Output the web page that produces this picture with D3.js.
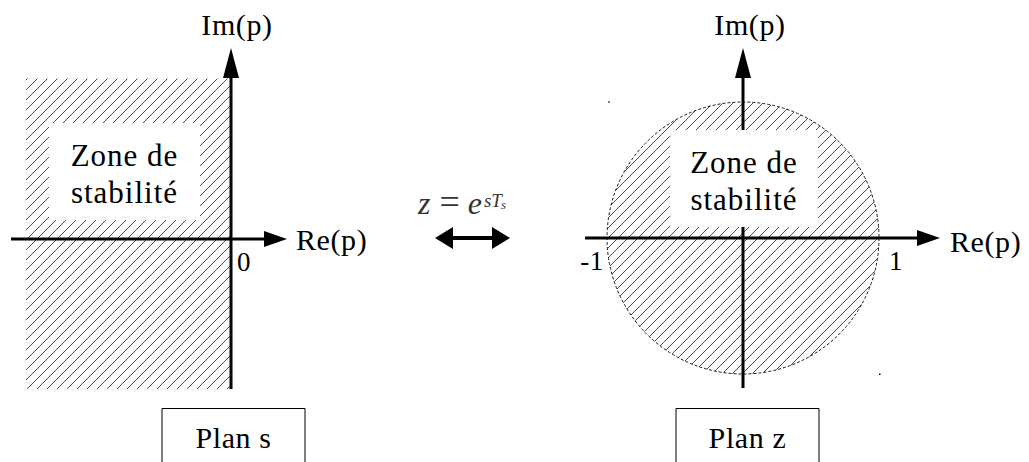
<!DOCTYPE html>
<html><head><meta charset="utf-8">
<script src="https://cdn.jsdelivr.net/npm/d3@7"></script>
<style>html,body{margin:0;padding:0;background:#fff;}svg{display:block;}</style>
</head><body>
<svg id="c" width="1029" height="462"></svg>
<script>
// ---- data ----
const planes = ["Plan s", "Plan z"];
const zoneText = ["Zone de", "stabilité"];
const axisLabels = ["Re(p)", "Im(p)"];
const sTicks = [{v: 0, label: "0"}];
const zTicks = [{v: -1, label: "-1"}, {v: 1, label: "1"}];
const sRegionRe = [-1, 0];        // stable half-plane (visible part)
const sRegionIm = [-1, 1.07];
const zRadius = 1;                // unit circle

const svg = d3.select("#c");
const FONT = "'Liberation Serif', 'DejaVu Serif', serif";

// hatch pattern
const defs = svg.append("defs");
const pat = defs.append("pattern").attr("id", "hatch").attr("patternUnits", "userSpaceOnUse")
  .attr("width", 10).attr("height", 10).attr("x", 6).attr("y", 0);
pat.append("path").attr("d", "M0,10 L10,0 M-2,2 L2,-2 M8,12 L12,8")
  .attr("stroke", "#111").attr("stroke-width", 0.75).attr("fill", "none");

// scales
const sx = d3.scaleLinear().domain([-1, 0]).range([26, 231]);
const sy = d3.scaleLinear().domain([-1, 1]).range([389, 89]);
const zx = d3.scaleLinear().domain([-1, 1]).range([607, 879]);
const zy = d3.scaleLinear().domain([-1, 1]).range([374, 102]);

function arrowUp(g, x, yTip) {
  g.append("path").attr("d", `M${x},${yTip} L${x-8},${yTip+30} L${x+8},${yTip+30} Z`).attr("fill", "#000");
}
function arrowRight(g, xTip, y) {
  g.append("path").attr("d", `M${xTip},${y} L${xTip-23},${y-8} L${xTip-23},${y+8} Z`).attr("fill", "#000");
}
function zone(g, x0, y0, w, h, cx, b1, b2) {
  g.append("rect").attr("x", x0).attr("y", y0).attr("width", w).attr("height", h).attr("fill", "#fff");
  g.append("text").attr("x", cx).attr("y", b1).attr("text-anchor", "middle")
    .attr("font-family", FONT).attr("font-size", 31).attr("letter-spacing", 1).text(zoneText[0]);
  g.append("text").attr("x", cx).attr("y", b2).attr("text-anchor", "middle")
    .attr("font-family", FONT).attr("font-size", 31).attr("letter-spacing", 1).text(zoneText[1]);
}
function label(g, x, y, t, anchor, size) {
  g.append("text").attr("x", x).attr("y", y).attr("text-anchor", anchor || "start")
    .attr("font-family", FONT).attr("font-size", size || 30).attr("letter-spacing", 0.6).text(t);
}
function planBox(g, x0, x1, name) {
  g.append("path").attr("d", `M${x0},470 L${x0},408.5 L${x1},408.5 L${x1},470`)
    .attr("fill", "none").attr("stroke", "#000").attr("stroke-width", 1);
  label(g, (x0 + x1) / 2, 448, name, "middle", 30);
}

// ---- S plane ----
const gs = svg.append("g");
gs.append("rect").attr("x", sx(sRegionRe[0])).attr("y", sy(sRegionIm[1]))
  .attr("width", sx(sRegionRe[1]) - sx(sRegionRe[0])).attr("height", sy(sRegionIm[0]) - sy(sRegionIm[1]))
  .attr("fill", "url(#hatch)");
gs.append("line").attr("x1", 11).attr("x2", 268).attr("y1", sy(0)).attr("y2", sy(0)).attr("stroke", "#000").attr("stroke-width", 3);
arrowRight(gs, 287, sy(0));
zone(gs, 49, 123, 151, 97, 124.5, 166, 203);
gs.append("line").attr("x1", sx(0)).attr("x2", sx(0)).attr("y1", 389).attr("y2", 70).attr("stroke", "#000").attr("stroke-width", 3);
arrowUp(gs, sx(0), 48);
label(gs, sx(0) + 6, 35, axisLabels[1], "middle");
label(gs, 296, 250, axisLabels[0]);
sTicks.forEach(t => label(gs, sx(t.v) + 13, 271, t.label, "middle", 27));
planBox(gs, 162, 305, planes[0]);

// ---- transform ----
const gm = svg.append("g");
const eq = gm.append("text").attr("x", 418).attr("y", 214).attr("font-family", FONT).attr("fill", "#333").attr("font-size", 32);
eq.append("tspan").attr("font-style", "italic").text("z");
eq.append("tspan").attr("dx", 9).attr("font-size", 36).text("=");
eq.append("tspan").attr("dx", 8).attr("font-style", "italic").text("e");
eq.append("tspan").attr("font-style", "italic").attr("font-size", 19).attr("dy", -7).attr("dx", 2).text("sT");
eq.append("tspan").attr("font-style", "italic").attr("font-size", 13).attr("dy", 2).attr("dx", -1).text("s");
gm.append("line").attr("x1", 448).attr("x2", 497).attr("y1", 238).attr("y2", 238).attr("stroke", "#000").attr("stroke-width", 4);
gm.append("path").attr("d", "M435,238 L453,227 L453,249 Z").attr("fill", "#000");
gm.append("path").attr("d", "M510,238 L492,227 L492,249 Z").attr("fill", "#000");

// ---- Z plane ----
const gz = svg.append("g");
gz.append("circle").attr("cx", zx(0)).attr("cy", zy(0)).attr("r", zx(zRadius) - zx(0))
  .attr("fill", "url(#hatch)").attr("stroke", "#000").attr("stroke-width", 0.9).attr("stroke-dasharray", "3,2");
gz.append("line").attr("x1", 585).attr("x2", 920).attr("y1", zy(0)).attr("y2", zy(0)).attr("stroke", "#000").attr("stroke-width", 3);
arrowRight(gz, 940, zy(0));
gz.append("line").attr("x1", zx(0)).attr("x2", zx(0)).attr("y1", 388).attr("y2", 70).attr("stroke", "#000").attr("stroke-width", 3);
arrowUp(gz, zx(0), 48);
zone(gz, 670, 130, 148, 97, 744, 173, 210);
label(gz, zx(0) + 7, 35, axisLabels[1], "middle");
label(gz, 950, 252, axisLabels[0]);
zTicks.forEach(t => label(gz, zx(t.v) + (t.v < 0 ? -15 : 17), 270, t.label, "middle", 27));
planBox(gz, 676, 819, planes[1]);
gz.append("rect").attr("x", zx(-1) + 1).attr("y", zy(1) - 0.5).attr("width", 2).attr("height", 1).attr("fill", "#000");
gz.append("rect").attr("x", zx(1)).attr("y", zy(-1) - 0.5).attr("width", 1.5).attr("height", 1.5).attr("fill", "#000");
</script>
</body></html>
